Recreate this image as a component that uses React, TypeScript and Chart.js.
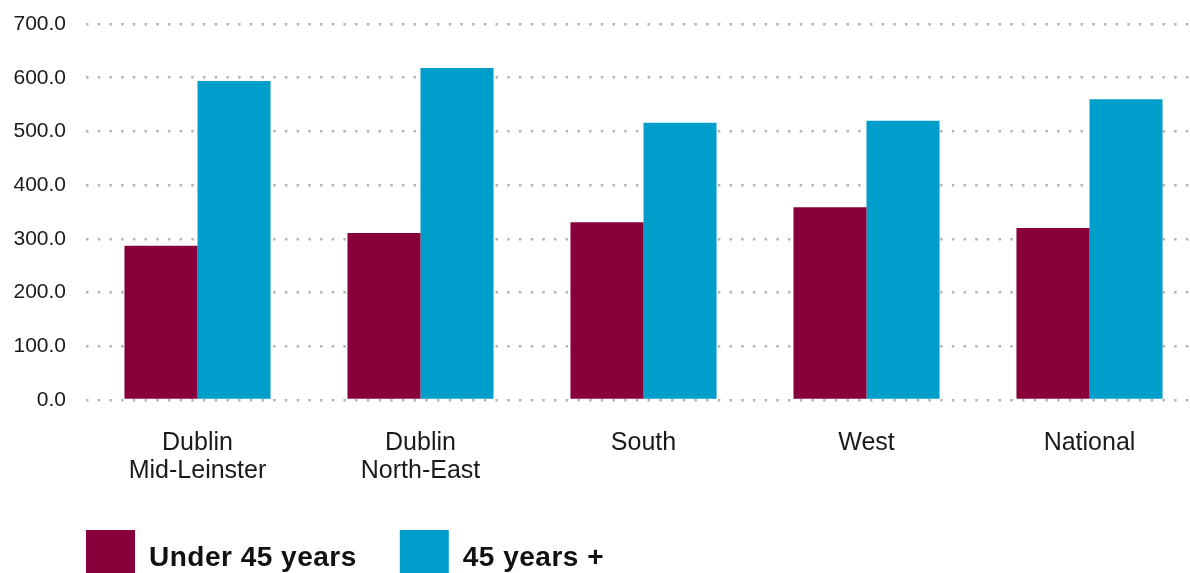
import React, { useEffect, useRef } from "react";
import { Chart, registerables } from "chart.js";

Chart.register(...registerables);

const categories: string[][] = [
  ["Dublin", "Mid-Leinster"],
  ["Dublin", "North-East"],
  ["South"],
  ["West"],
  ["National"],
];
const under45: number[] = [287, 311, 331, 359, 320];
const over45: number[] = [594, 618, 516, 520, 560];
const seriesNames: string[] = ["Under 45 years", "45 years +"];
const seriesColors: string[] = ["#870039", "#009ECA"];
const yTicks: number[] = [0, 100, 200, 300, 400, 500, 600, 700];

const FONT = '"Liberation Sans", Arial, Helvetica, sans-serif';

const legendPlugin = {
  id: "customLegend",
  afterDraw(chart: any) {
    const ctx = chart.ctx as CanvasRenderingContext2D;
    const area = chart.chartArea;
    ctx.save();
    ctx.font = `bold 28px ${FONT}`;
    (ctx as any).letterSpacing = "0.5px";
    ctx.textBaseline = "alphabetic";
    ctx.textAlign = "left";
    let x = area.left;
    const boxTop = 530;
    const box = 49;
    chart.data.datasets.forEach((ds: any) => {
      ctx.fillStyle = ds.backgroundColor;
      ctx.fillRect(x, boxTop, box, box);
      const tx = x + box + 14;
      ctx.fillStyle = "#111111";
      ctx.fillText(ds.label, tx, 566);
      const w = ctx.measureText(ds.label).width;
      x = tx + w + 43;
    });
    ctx.restore();
  },
};

export default function App() {
  const canvasRef = useRef<HTMLCanvasElement | null>(null);

  useEffect(() => {
    if (!canvasRef.current) return;
    const chart = new Chart(canvasRef.current, {
      type: "bar",
      data: {
        labels: categories,
        datasets: [
          {
            label: seriesNames[0],
            data: under45,
            backgroundColor: seriesColors[0],
            categoryPercentage: 0.655,
            barPercentage: 1,
          },
          {
            label: seriesNames[1],
            data: over45,
            backgroundColor: seriesColors[1],
            categoryPercentage: 0.655,
            barPercentage: 1,
          },
        ],
      },
      options: {
        responsive: false,
        animation: false,
        layout: { padding: { top: 24, right: 0, bottom: 0, left: 0 } },
        plugins: {
          legend: { display: false },
          tooltip: { enabled: false },
        },
        scales: {
          x: {
            grid: { display: false, drawTicks: false },
            border: { display: false },
            ticks: {
              color: "#1a1a1a",
              font: { family: FONT, size: 25, lineHeight: "28px" },
              padding: 29,
              maxRotation: 0,
              autoSkip: false,
            },
            afterFit: (scale: any) => {
              scale.height = 173;
            },
          },
          y: {
            min: 0,
            max: 700,
            afterBuildTicks: (scale: any) => {
              scale.ticks = yTicks.map((v) => ({ value: v }));
            },
            grid: {
              color: "#b3b3b3",
              lineWidth: 2.5,
              drawTicks: true,
              tickLength: 16,
              tickColor: "rgba(0,0,0,0)",
            },
            border: { display: false, dash: [2.5, 9.2] },
            ticks: {
              color: "#1a1a1a",
              font: { family: FONT, size: 21 },
              padding: 4,
              callback: (v: any) => Number(v).toFixed(1),
            },
            afterFit: (scale: any) => {
              scale.width = 86;
            },
          },
        },
      },
      plugins: [legendPlugin],
    });
    return () => chart.destroy();
  }, []);

  return (
    <div
      style={{
        position: "fixed",
        left: 0,
        top: 0,
        width: 1190,
        height: 573,
        overflow: "hidden",
        background: "#ffffff",
      }}
    >
      <canvas ref={canvasRef} width={1201} height={573} style={{ display: "block" }} />
    </div>
  );
}
